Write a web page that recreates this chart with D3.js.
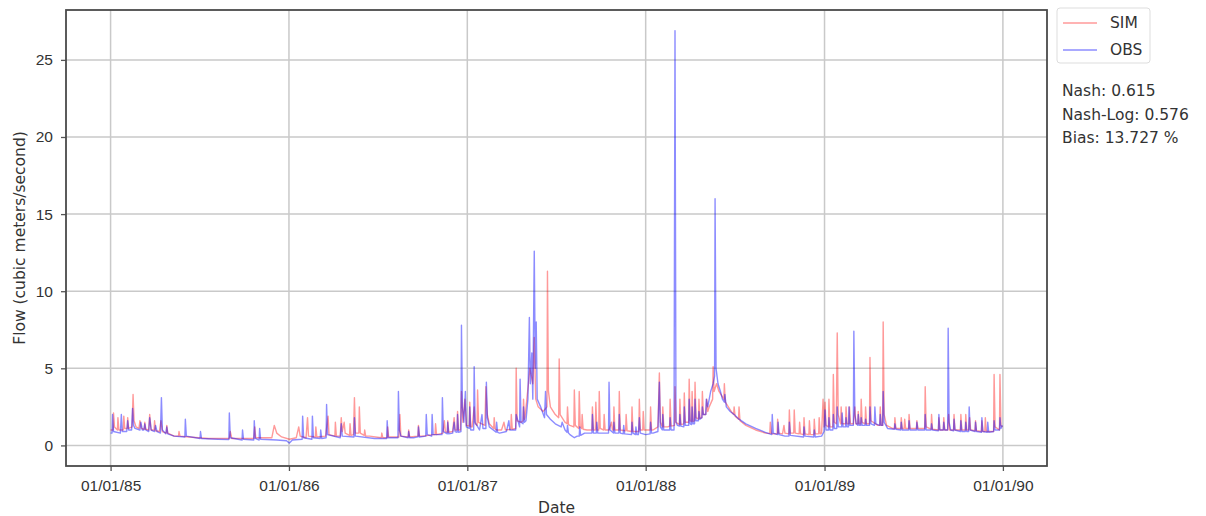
<!DOCTYPE html>
<html>
<head>
<meta charset="utf-8">
<script src="https://cdn.jsdelivr.net/npm/d3@7"></script>
<style>
  body { margin: 0; background: #fff; }
  svg { font-family: "DejaVu Sans", sans-serif; }
</style>
</head>
<body>
<svg id="flow-plot" width="1206" height="516"></svg>
<script>
// day index counted from 01/01/85, flow in m3/s
const startDate = new Date(1985, 0, 1);
const endDate = new Date(1989, 11, 31);

const obsPoints = [
  [0,0.8],[3,0.8],[4,2.0],[6,0.9],[20,0.8],[22,2.0],[24,0.9],[33,0.9],[35,1.6],[37,1.0],
  [43,1.0],[45,2.4],[47,1.3],[50,1.1],[60,1.0],[62,1.5],[65,1.0],[78,0.9],[80,1.8],[83,1.0],
  [90,0.9],[92,1.3],[95,0.9],[102,0.8],[104,3.1],[106,1.0],[130,0.6],[152,0.55],[153,1.7],[155,0.6],
  [183,0.45],[184,0.9],[186,0.45],[220,0.4],[242,0.38],[243,2.1],[245,0.5],[269,0.35],[270,1.0],[272,0.4],
  [293,0.35],[294,1.6],[296,0.45],[304,0.35],[305,1.1],[307,0.4],[340,0.35],[360,0.3],[366,0.15],[372,0.35],
  [392,0.4],[393,1.9],[395,0.5],[412,0.4],[413,1.9],[415,0.5],[441,0.5],[442,2.65],[444,0.7],
  [470,0.5],[472,1.4],[474,0.6],[498,0.55],[499,1.8],[501,0.6],[540,0.45],[565,0.45],[566,1.6],[568,0.5],
  [588,0.5],[589,3.5],[591,1.0],[594,0.6],[620,0.5],[645,0.6],[646,2.0],[648,0.7],[657,0.6],[658,2.0],[660,0.7],
  [678,0.7],[679,3.1],[681,0.9],[700,0.8],[703,1.5],[705,0.9],
  [717,0.9],[718,7.8],[720,2.5],[723,1.5],[726,3.5],[728,1.2],[743,1.0],[744,5.1],[746,1.5],
  [755,1.0],[760,2.0],[762,1.1],[768,1.1],[769,4.1],[771,1.8],[775,1.2],[796,0.8],
  [810,0.9],[815,1.6],[817,1.0],[829,1.0],[830,2.0],[837,1.2],[838,4.3],[840,1.5],
  [850,1.6],[854,3.0],[857,8.3],[859,4.0],[862,6.0],[864,3.0],[867,12.6],[869,5.0],[871,8.0],[873,3.0],
  [880,2.5],[888,1.8],[890,3.5],[892,2.0],[900,1.7],[910,1.4],[922,1.2],[924,1.5],[930,1.0],
  [940,0.7],[949,0.5],[955,0.6],[970,0.8],[985,0.8],[986,2.0],[988,0.8],
  [1000,0.8],[1010,0.8],[1019,0.8],[1020,4.1],[1022,1.0],[1040,0.8],[1041,2.0],[1043,0.8],
  [1066,0.7],[1067,1.5],[1069,0.8],[1080,0.7],[1082,1.8],[1084,0.8],[1095,0.7],
  [1110,0.8],[1120,0.9],[1123,4.1],[1125,1.2],[1140,1.0],[1153,1.0],[1155,26.9],[1157,1.5],[1160,1.3],
  [1173,1.2],[1174,2.5],[1176,1.3],[1183,1.3],[1184,3.0],[1186,1.4],[1195,1.4],[1196,3.0],[1198,1.6],
  [1210,1.8],[1211,2.5],[1213,2.0],[1218,2.0],[1219,3.0],[1222,2.5],[1228,3.5],[1233,4.0],[1236,4.5],
  [1237,16.0],[1239,5.0],[1243,4.0],[1248,3.5],[1252,3.0],[1256,2.8],[1257,3.3],[1260,2.5],[1268,2.2],
  [1276,2.0],[1286,1.7],[1300,1.4],[1320,1.1],[1340,0.85],[1353,0.7],[1354,2.0],[1356,0.8],
  [1365,0.7],[1366,1.5],[1368,0.7],[1380,0.6],[1388,0.6],[1389,1.5],[1391,0.65],
  [1418,0.55],[1419,1.2],[1421,0.6],[1439,0.55],[1440,1.0],[1442,0.55],
  [1455,0.6],[1460,0.9],[1462,2.3],[1464,1.0],[1478,1.0],[1479,2.0],[1481,1.1],
  [1486,1.1],[1487,2.5],[1489,1.2],[1496,1.2],[1497,2.1],[1499,1.2],[1510,1.2],[1511,2.5],[1513,1.3],
  [1520,1.3],[1521,7.4],[1523,2.0],[1526,1.4],[1535,1.3],[1536,1.8],[1538,1.3],
  [1553,1.3],[1554,2.5],[1556,1.4],[1563,1.3],[1564,2.5],[1566,1.4],[1580,1.3],[1581,3.5],[1583,1.5],[1590,1.1],
  [1617,1.0],[1618,1.5],[1620,1.0],[1633,1.0],[1634,1.6],[1636,1.0],[1666,1.0],[1667,2.0],[1669,1.0],
  [1694,0.95],[1695,2.0],[1697,1.0],[1713,1.0],[1714,7.6],[1716,1.5],[1719,1.0],
  [1725,0.95],[1726,1.7],[1728,1.0],[1739,0.9],[1740,1.6],[1742,0.9],[1756,0.9],[1757,2.5],[1759,1.0],
  [1782,0.85],[1783,1.8],[1785,0.9],[1807,0.9],[1808,1.6],[1810,1.0],[1819,1.0],[1820,1.8],[1822,1.1],[1825,1.3]
];

// smaller observed events between the main ones
const obsMinor = [
  [68,1.0],[70,1.4],[72,1.0],[113,0.75],[115,1.2],[117,0.75],
  [429,0.45],[430,1.0],[432,0.45],[609,0.5],[610,0.9],[612,0.5],[629,0.55],[630,1.2],[632,0.55],
  [689,0.75],[690,1.5],[692,0.75],[709,0.85],[710,2.0],[712,0.85],
  [734,1.1],[735,2.5],[737,1.0],[789,0.85],[790,1.5],[792,0.85],[844,1.4],[845,2.5],[847,1.5],
  [934,0.85],[935,1.3],[937,0.8],[959,0.6],[960,1.2],[962,0.65],[994,0.8],[995,1.5],[997,0.8],
  [1029,0.8],[1030,1.5],[1032,0.8],[1049,0.75],[1050,1.3],[1052,0.75],[1074,0.7],[1075,1.2],[1077,0.7],
  [1104,0.75],[1105,1.5],[1107,0.8],[1129,1.0],[1130,2.0],[1132,1.0],[1144,1.0],[1145,1.8],[1147,1.0],
  [1164,1.25],[1165,2.0],[1167,1.25],[1189,1.35],[1190,2.5],[1192,1.4],[1203,1.6],[1204,2.2],[1206,1.7],
  [1469,1.0],[1470,1.8],[1472,1.0],[1504,1.2],[1505,1.8],[1507,1.2],[1529,1.3],[1530,2.0],[1532,1.3],
  [1544,1.3],[1545,1.7],[1547,1.3],[1574,1.3],[1575,2.0],[1577,1.3],[1604,1.05],[1605,1.4],[1607,1.05],
  [1649,1.0],[1650,1.5],[1652,1.0],[1679,1.0],[1680,1.4],[1682,1.0],[1704,1.0],[1705,1.5],[1707,1.0],
  [1749,0.9],[1750,1.5],[1752,0.9],[1769,0.9],[1770,1.5],[1772,0.9],[1794,0.85],[1795,1.5],[1797,0.85]
];

const simPoints = [
  [0,1.0],[5,1.0],[6,2.1],[8,1.2],[14,1.0],[15,1.8],[17,1.0],[26,1.0],[27,1.9],[29,1.1],
  [44,1.2],[46,3.3],[48,1.6],[52,1.2],[58,1.1],[60,1.6],[63,1.1],[78,1.0],[80,2.0],[83,1.0],
  [100,0.9],[103,1.6],[106,0.9],[130,0.6],[160,0.55],[200,0.45],[243,0.45],[245,0.9],[248,0.45],
  [280,0.45],[293,0.45],[295,1.2],[297,0.5],[330,0.5],[335,1.3],[340,0.8],[350,0.55],[366,0.4],
  [380,0.5],[385,1.2],[388,0.6],[400,0.5],[403,1.8],[405,0.6],[440,0.6],[445,1.9],[447,0.7],
  [470,0.6],[472,1.8],[474,0.9],[478,1.5],[480,0.8],[497,0.7],[499,3.1],[501,0.8],[508,0.8],[509,2.5],[511,0.8],
  [530,0.6],[566,0.5],[567,1.2],[569,0.55],[590,0.55],[592,2.0],[594,0.6],[640,0.6],[660,0.7],
  [680,0.8],[683,1.6],[685,0.9],[700,0.9],[703,1.8],[705,1.0],
  [716,1.0],[718,3.5],[721,1.5],[725,3.0],[728,1.3],[740,1.2],[744,2.5],[746,1.4],
  [750,1.3],[751,3.6],[753,1.5],[766,1.3],[768,3.8],[771,2.0],[775,1.4],
  [790,1.0],[800,1.0],[805,1.5],[808,1.0],[829,1.1],[830,5.0],[832,1.6],
  [840,1.5],[848,1.8],[855,4.0],[858,5.0],[864,4.0],[867,7.0],[870,3.0],
  [875,2.5],[885,2.2],[893,2.5],[894,11.3],[896,3.5],[900,2.5],[910,2.0],[917,1.8],[918,5.6],[920,2.0],
  [930,1.5],[940,1.3],[948,1.2],[949,3.6],[951,1.3],[958,1.1],[959,3.5],[961,1.2],
  [975,1.0],[985,1.0],[986,2.5],[988,1.0],[999,1.0],[1000,3.5],[1002,1.1],
  [1020,1.0],[1025,1.5],[1027,1.0],[1040,1.0],[1041,3.5],[1043,1.0],
  [1066,0.9],[1067,2.5],[1069,0.9],[1081,0.9],[1082,3.0],[1084,1.0],[1095,1.0],
  [1110,1.0],[1120,1.2],[1123,4.7],[1125,1.5],[1140,1.2],[1154,1.3],[1155,3.8],[1157,1.5],
  [1173,1.4],[1174,3.4],[1176,1.5],[1183,1.5],[1184,4.3],[1186,1.6],[1195,1.6],[1196,4.1],[1198,1.8],
  [1210,1.8],[1211,3.5],[1213,2.0],[1225,2.5],[1232,3.0],[1233,5.1],[1235,3.5],[1240,4.0],[1245,3.5],
  [1255,3.0],[1256,4.0],[1258,2.8],[1270,2.2],[1275,2.0],[1276,2.5],[1278,1.9],
  [1285,1.7],[1286,2.5],[1288,1.6],[1300,1.3],[1320,1.0],[1340,0.8],
  [1355,0.75],[1364,0.75],[1365,1.7],[1367,0.8],[1375,0.75],[1378,1.3],[1380,0.8],
  [1388,0.75],[1389,2.3],[1391,0.8],[1398,0.8],[1399,2.3],[1401,0.8],
  [1418,0.7],[1419,1.8],[1421,0.75],[1439,0.7],[1440,1.7],[1442,0.75],
  [1455,0.8],[1458,3.0],[1460,1.2],[1462,2.8],[1464,1.3],[1478,1.2],[1479,4.6],[1481,1.5],
  [1485,1.4],[1487,7.3],[1489,2.0],[1500,1.4],[1511,1.4],[1512,2.5],[1514,1.4],
  [1520,1.4],[1523,2.5],[1525,1.4],[1535,1.4],[1536,3.0],[1538,1.5],
  [1553,1.4],[1554,5.7],[1556,1.6],[1570,1.3],[1580,1.3],[1581,8.0],[1583,2.0],[1588,1.3],
  [1600,1.1],[1617,1.1],[1618,1.8],[1620,1.1],[1633,1.1],[1634,2.0],[1636,1.1],
  [1666,1.1],[1667,3.8],[1669,1.2],[1694,1.0],[1695,1.8],[1697,1.0],
  [1713,1.0],[1715,2.0],[1717,1.0],[1725,1.0],[1726,2.0],[1728,1.0],[1739,1.0],[1740,2.0],[1742,1.0],
  [1756,1.0],[1758,1.8],[1760,1.0],[1782,0.9],[1783,1.6],[1785,0.9],
  [1795,0.9],[1807,0.9],[1808,4.6],[1810,1.2],[1819,1.0],[1820,4.6],[1822,1.3],[1825,1.2]
];

const simMinor = [
  [34,1.1],[35,1.8],[37,1.1],[69,1.05],[70,1.5],[72,1.05],[89,1.0],[90,1.6],[92,0.95],
  [114,0.8],[115,1.3],[117,0.8],[139,0.6],[140,0.9],[142,0.6],
  [419,0.55],[420,1.2],[422,0.55],[459,0.6],[460,1.5],[462,0.6],[489,0.65],[490,1.4],[492,0.65],
  [519,0.65],[520,1.0],[522,0.6],[554,0.5],[555,0.8],[557,0.5],[609,0.55],[610,1.0],[612,0.55],
  [629,0.6],[630,1.3],[632,0.6],[664,0.7],[665,1.4],[667,0.7],[689,0.85],[690,1.6],[692,0.85],
  [709,1.0],[710,2.2],[712,1.0],
  [734,1.25],[735,2.8],[737,1.2],[784,1.1],[785,1.8],[787,1.05],[819,1.05],[820,2.0],[822,1.05],
  [844,1.6],[845,3.0],[847,1.7],[934,1.4],[935,2.5],[937,1.35],[964,1.1],[965,2.0],[967,1.05],
  [992,1.0],[993,2.8],[995,1.0],[1009,1.0],[1010,2.0],[1012,1.0],[1029,1.0],[1030,2.5],[1032,1.0],
  [1054,0.95],[1055,2.0],[1057,0.95],[1089,1.0],[1090,2.2],[1092,1.0],
  [1104,1.0],[1105,2.5],[1107,1.0],[1129,1.2],[1130,2.5],[1132,1.2],[1144,1.25],[1145,3.0],[1147,1.25],
  [1164,1.35],[1165,3.0],[1167,1.35],[1189,1.55],[1190,3.5],[1192,1.55],[1203,1.7],[1204,3.0],[1206,1.75],
  [1218,2.0],[1220,3.0],[1222,2.2],[1349,0.78],[1350,1.5],[1352,0.78],[1409,0.75],[1410,1.5],[1412,0.75],
  [1429,0.7],[1430,1.6],[1432,0.7],[1449,0.75],[1450,1.8],[1452,0.75],
  [1469,1.2],[1470,3.0],[1472,1.2],[1494,1.4],[1495,2.5],[1497,1.4],[1504,1.4],[1505,2.5],[1507,1.4],
  [1529,1.4],[1530,2.2],[1532,1.4],[1544,1.4],[1545,2.5],[1547,1.4],[1574,1.3],[1575,2.5],[1577,1.3],
  [1604,1.1],[1605,1.8],[1607,1.1],[1624,1.1],[1625,1.7],[1627,1.1],[1649,1.1],[1650,1.6],[1652,1.1],
  [1679,1.05],[1680,2.0],[1682,1.05],[1704,1.0],[1705,1.8],[1707,1.0],[1749,1.0],[1750,2.0],[1752,1.0],
  [1769,0.95],[1770,1.6],[1772,0.95],[1789,0.9],[1790,1.8],[1792,0.9]
];

const yTicks = [0, 5, 10, 15, 20, 25];
const xTickDates = [1985, 1986, 1987, 1988, 1989, 1990].map(y => new Date(y, 0, 1));
const statLines = ["Nash: 0.615", "Nash-Log: 0.576", "Bias: 13.727 %"];
const seriesNames = ["SIM", "OBS"];
const seriesColors = ["rgba(255,0,0,0.4)", "rgba(0,0,255,0.45)"];

function drawPlot() {
  const svg = d3.select("#flow-plot");
  const margin = { top: 10, right: 159, bottom: 50, left: 66 };
  const width = 1206 - margin.left - margin.right;
  const height = 516 - margin.top - margin.bottom;

  const g = svg.append("g")
    .attr("transform", `translate(${margin.left},${margin.top})`);

  // matplotlib style 5% padding on both axes
  const span = endDate - startDate;
  const x = d3.scaleTime()
    .domain([new Date(+startDate - span * 0.05), new Date(+endDate + span * 0.05)])
    .range([0, width]);

  const y = d3.scaleLinear()
    .domain([-1.335, 28.235])
    .range([height, 0]);

  const toDate = d => d3.timeDay.offset(startDate, d);

  // Grid
  g.append("g")
    .selectAll("line")
    .data(yTicks)
    .join("line")
    .attr("x1", 0).attr("x2", width)
    .attr("y1", d => y(d)).attr("y2", d => y(d))
    .attr("stroke", "#c9c9c9").attr("stroke-width", 1.5);

  g.append("g")
    .selectAll("line")
    .data(xTickDates)
    .join("line")
    .attr("x1", d => x(d)).attr("x2", d => x(d))
    .attr("y1", 0).attr("y2", height)
    .attr("stroke", "#c9c9c9").attr("stroke-width", 1.5);

  // Lines
  const line = d3.line()
    .x(d => x(toDate(d[0])))
    .y(d => y(d[1]));

  const series = [simPoints.concat(simMinor), obsPoints.concat(obsMinor)]
    .map(pts => pts.slice().sort((a, b) => a[0] - b[0]));

  series.forEach((pts, i) => {
    g.append("path")
      .datum(pts)
      .attr("fill", "none")
      .attr("stroke", seriesColors[i])
      .attr("stroke-width", 1.4)
      .attr("stroke-linejoin", "round")
      .attr("d", line);
  });

  // Axes
  const xAxis = g.append("g")
    .attr("transform", `translate(0,${height})`)
    .call(d3.axisBottom(x).tickValues(xTickDates).tickFormat(d3.timeFormat("%m/%d/%y")).tickSize(5).tickPadding(9));

  const yAxis = g.append("g")
    .call(d3.axisLeft(y).tickValues(yTicks).tickSize(5).tickPadding(8));

  [xAxis, yAxis].forEach(ax => {
    ax.select(".domain").remove();
    ax.selectAll("text").style("font-size", "15.5px").style("fill", "#333");
    ax.selectAll(".tick line").attr("stroke", "#555").attr("stroke-width", 1.3);
  });

  g.append("rect")
    .attr("width", width).attr("height", height)
    .attr("fill", "none")
    .attr("stroke", "#4a4a4a")
    .attr("stroke-width", 1.8);

  // Axis labels
  svg.append("text")
    .attr("x", margin.left + width / 2)
    .attr("y", 513)
    .attr("text-anchor", "middle")
    .style("font-size", "15.5px").style("fill", "#333")
    .text("Date");

  svg.append("text")
    .attr("transform", `translate(25,${margin.top + height / 2}) rotate(-90)`)
    .attr("text-anchor", "middle")
    .style("font-size", "15.5px").style("fill", "#333")
    .text("Flow (cubic meters/second)");

  // Legend
  const leg = svg.append("g").attr("transform", "translate(1057,8)");
  leg.append("rect")
    .attr("width", 93).attr("height", 55).attr("rx", 3)
    .attr("fill", "#fff").attr("stroke", "#ddd");
  seriesNames.forEach((name, i) => {
    leg.append("line")
      .attr("x1", 6).attr("x2", 40)
      .attr("y1", 15 + i * 27).attr("y2", 15 + i * 27)
      .attr("stroke", seriesColors[i]).attr("stroke-width", 1.5);
    leg.append("text")
      .attr("x", 53).attr("y", 20 + i * 27)
      .style("font-size", "15.5px").style("fill", "#333")
      .text(name);
  });

  // Statistics
  svg.append("g")
    .selectAll("text")
    .data(statLines)
    .join("text")
    .attr("x", 1062)
    .attr("y", (d, i) => 96 + i * 23.5)
    .style("font-size", "15.5px").style("fill", "#333")
    .text(d => d);
}

drawPlot();
</script>
</body>
</html>
